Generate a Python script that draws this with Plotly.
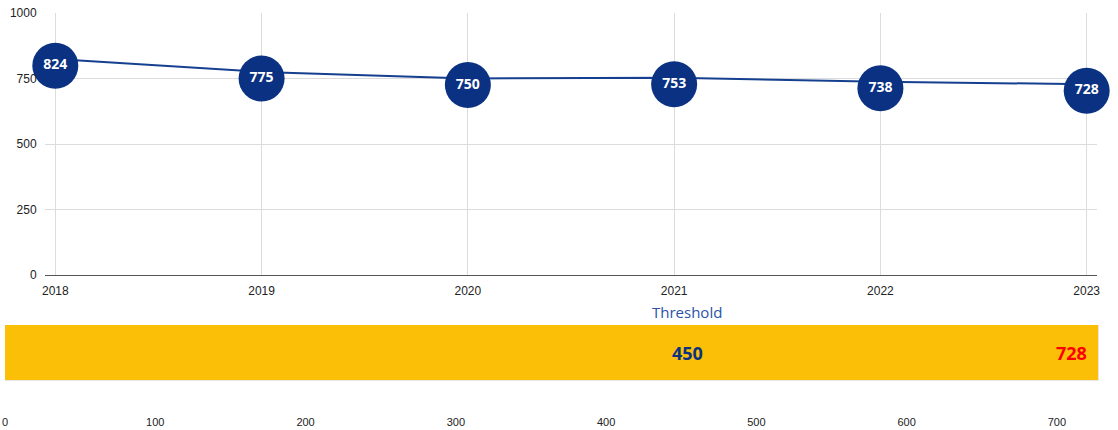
import plotly.graph_objects as go

years = [2018, 2019, 2020, 2021, 2022, 2023]
values = [824, 775, 750, 753, 738, 728]
y_ticks = [0, 250, 500, 750, 1000]
threshold = 450
current = 728
bar_ticks = [0, 100, 200, 300, 400, 500, 600, 700]

W, H = 1118, 430
def px_x(p): return p / W
def px_y(p): return 1 - p / H

navy = "#0a3182"
fig = go.Figure()

# line
fig.add_trace(go.Scatter(x=years, y=values, mode="lines",
                         line=dict(color="#15408f", width=2),
                         xaxis="x", yaxis="y", hoverinfo="skip", showlegend=False,
                         cliponaxis=False))
# markers (drawn on overlay axis slightly shifted)
fig.add_trace(go.Scatter(x=years, y=values, mode="markers+text",
                         marker=dict(size=46, color=navy),
                         text=[str(v) for v in values], textposition="middle center",
                         textfont=dict(color="white", size=14, family="Open Sans", weight="bold"),
                         xaxis="x", yaxis="y3", showlegend=False, cliponaxis=False))
# threshold bar
fig.add_trace(go.Bar(x=[current], y=[0], orientation="h", width=1,
                     marker=dict(color="#fbbf07", line=dict(color="#e6e6e6", width=1)),
                     xaxis="x2", yaxis="y2", showlegend=False, hoverinfo="skip",
                     cliponaxis=False))

fig.add_annotation(x=threshold, y=0, xref="x2", yref="y2", text="<b>450</b>",
                   showarrow=False, xshift=6,
                   font=dict(color=navy, size=18, family="Open Sans"))
fig.add_annotation(x=current, y=0, xref="x2", yref="y2", text="<b>728</b>",
                   showarrow=False, xanchor="right", xshift=-10,
                   font=dict(color="#ff0000", size=18, family="Open Sans"))
fig.add_annotation(x=threshold, y=px_y(312), xref="x2", yref="paper", text="Threshold",
                   showarrow=False, yanchor="middle", xshift=6,
                   font=dict(color="#2a52a6", size=15, family="Open Sans"))

fig.update_layout(
    width=W, height=H, margin=dict(l=0, r=0, t=0, b=0, autoexpand=False),
    paper_bgcolor="white", plot_bgcolor="white",
    font=dict(family="Liberation Sans", size=11, color="#222"),
    xaxis=dict(domain=[px_x(45), px_x(1097)], range=[2017.95, 2023.05], automargin=False,
               tickmode="array", tickvals=years, ticktext=[str(y) for y in years],
               showgrid=True, gridcolor="#dcdcdc", zeroline=False, showline=False,
               ticks="outside", ticklen=5, tickcolor="rgba(0,0,0,0)",
               tickfont=dict(size=12, color="#222")),
    yaxis=dict(domain=[px_y(275), px_y(13)], range=[0, 1000], automargin=False,
               tickmode="array", tickvals=y_ticks,
               showgrid=True, gridcolor="#dcdcdc", zeroline=True, zerolinecolor="#555",
               zerolinewidth=1, ticks="outside", ticklen=5, tickcolor="rgba(0,0,0,0)",
               tickfont=dict(size=12, color="#222")),
    yaxis3=dict(domain=[px_y(275), px_y(13)], range=[25, 1025], overlaying="y",
                visible=False, anchor="x"),
    xaxis2=dict(domain=[px_x(5), px_x(1099)], range=[0, 728], anchor="y2", automargin=False,
                tickmode="array", tickvals=bar_ticks, showgrid=False, zeroline=False,
                showline=False, ticklabelstandoff=33,
                tickfont=dict(size=11, color="#222")),
    yaxis2=dict(domain=[px_y(381), px_y(325)], range=[-0.5, 0.5], visible=False,
                anchor="x2"),
    bargap=0,
)

fig.write_html("out.html", config={"displayModeBar": False},
               post_script="document.body.style.margin='0';document.body.style.overflow='hidden';")
